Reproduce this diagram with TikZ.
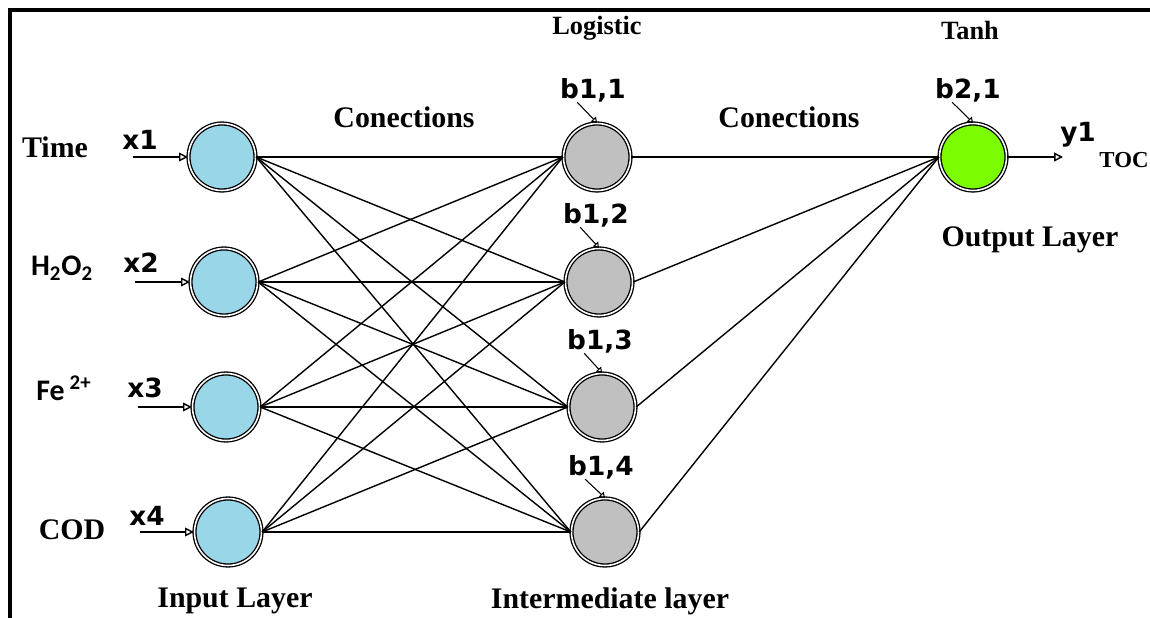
\documentclass[tikz,border=0pt]{standalone}
\usepackage{fontspec}
\setmainfont{Liberation Serif}
\newfontfamily\pixfont{DejaVu Sans}
\newfontfamily\calfont{Carlito}
\usetikzlibrary{arrows.meta,positioning}
\definecolor{inblue}{RGB}{153,214,232}
\definecolor{hidgray}{RGB}{192,192,192}
\definecolor{outgreen}{RGB}{124,252,0}

\begin{document}
\begin{tikzpicture}[x=0.02cm,y=0.02cm]
\tikzstyle{every node}+=[inner sep=0pt]
\tikzstyle{neuron}=[circle,draw=black,double=white,double distance=0.9pt,line width=0.75pt,minimum size=1.34cm]
\tikzstyle{lbl}=[font=\fontsize{17}{20}\selectfont\bfseries]
\tikzstyle{toplbl}=[font=\fontsize{15}{17}\selectfont\bfseries]
\tikzstyle{pix}=[font=\pixfont\fontsize{15}{17}\selectfont\bfseries]
\tikzstyle{chem}=[font=\calfont\fontsize{17}{19}\selectfont\bfseries]
\tikzstyle{wire}=[black,line width=0.8pt]
\tikzstyle{feed}=[wire,-{Triangle[open,length=5pt,width=5pt]}]
\tikzstyle{bias}=[black,line width=0.6pt,-{Triangle[open,length=3pt,width=4pt]}]
\useasboundingbox (0,0) rectangle (1150,-618);
% frame
\draw [black,line width=1.8pt] (10,-618) -- (10,-10) -- (1150,-10);
% input layer
\node [neuron,fill=inblue] (i1) at (222,-157) {};
\node [neuron,fill=inblue] (i2) at (224,-282) {};
\node [neuron,fill=inblue] (i3) at (226,-407) {};
\node [neuron,fill=inblue] (i4) at (228,-532) {};
% intermediate layer
\node [neuron,fill=hidgray] (h1) at (597,-157) {};
\node [neuron,fill=hidgray] (h2) at (599,-282) {};
\node [neuron,fill=hidgray] (h3) at (602,-407) {};
\node [neuron,fill=hidgray] (h4) at (605,-532) {};
% output layer
\node [neuron,fill=outgreen] (o1) at (973,-157) {};
% names of the inputs
\node [lbl] (time) at (55,-147) {Time};
\node [chem] (h2o2) at (62,-268) {H\textsubscript{2}O\textsubscript{2}};
\node [chem] (fe) at (64,-388) {Fe\,\textsuperscript{2+}};
\node [lbl] (cod) at (72,-530) {COD};
% input arrows
\node [pix] (x1) at (140,-140) {x1};
\node [pix] (x2) at (141,-263) {x2};
\node [pix] (x3) at (145,-388) {x3};
\node [pix] (x4) at (147,-516) {x4};
\coordinate (in1) at (133,-157);
\coordinate (in2) at (135,-282);
\coordinate (in3) at (138,-407);
\coordinate (in4) at (140,-532);
\draw [feed] (in1) -- (i1.west);
\draw [feed] (in2) -- (i2.west);
\draw [feed] (in3) -- (i3.west);
\draw [feed] (in4) -- (i4.west);
% input to intermediate
\draw [wire] (i1.east) -- (h1.west);
\draw [wire] (i1.east) -- (h2.west);
\draw [wire] (i1.east) -- (h3.west);
\draw [wire] (i1.east) -- (h4.west);
\draw [wire] (i2.east) -- (h1.west);
\draw [wire] (i2.east) -- (h2.west);
\draw [wire] (i2.east) -- (h3.west);
\draw [wire] (i2.east) -- (h4.west);
\draw [wire] (i3.east) -- (h1.west);
\draw [wire] (i3.east) -- (h2.west);
\draw [wire] (i3.east) -- (h3.west);
\draw [wire] (i3.east) -- (h4.west);
\draw [wire] (i4.east) -- (h1.west);
\draw [wire] (i4.east) -- (h2.west);
\draw [wire] (i4.east) -- (h3.west);
\draw [wire] (i4.east) -- (h4.west);
% intermediate to output
\draw [wire] (h1.east) -- (o1.west);
\draw [wire] (h2.east) -- (o1.west);
\draw [wire] (h3.east) -- (o1.west);
\draw [wire] (h4.east) -- (o1.west);
% biases
\node [pix] (b11) at (593,-90) {b1,1};
\node [pix] (b12) at (596,-215) {b1,2};
\node [pix] (b13) at (600,-341) {b1,3};
\node [pix] (b14) at (601,-467) {b1,4};
\node [pix] (b21) at (968,-90) {b2,1};
\draw [bias] ([xshift=-9pt]b11.south) -- (h1.north);
\draw [bias] ([xshift=-9pt]b12.south) -- (h2.north);
\draw [bias] ([xshift=-9pt]b13.south) -- (h3.north);
\draw [bias] ([xshift=-9pt]b14.south) -- (h4.north);
\draw [bias] ([xshift=-9pt]b21.south) -- (o1.north);
% output arrow
\coordinate (out1) at (1063,-157);
\draw [feed] (o1.east) -- (out1);
\node [pix] (y1) at (1078,-135) {y1};
\node [font=\fontsize{13}{15}\selectfont\bfseries] (toc) at (1124,-160) {TOC};
% layer titles
\node [lbl] (con1) at (404,-117) {Conections};
\node [lbl] (con2) at (789,-117) {Conections};
\node [toplbl] (logi) at (597,-28) {Logistic};
\node [toplbl] (tanh) at (970,-30) {Tanh};
\node [lbl] (outl) at (1030,-240) {Output Layer};
\node [lbl] (inl) at (235,-601) {Input Layer};
\node [lbl] (midl) at (610,-601) {Intermediate layer};
\end{tikzpicture}
\end{document}
